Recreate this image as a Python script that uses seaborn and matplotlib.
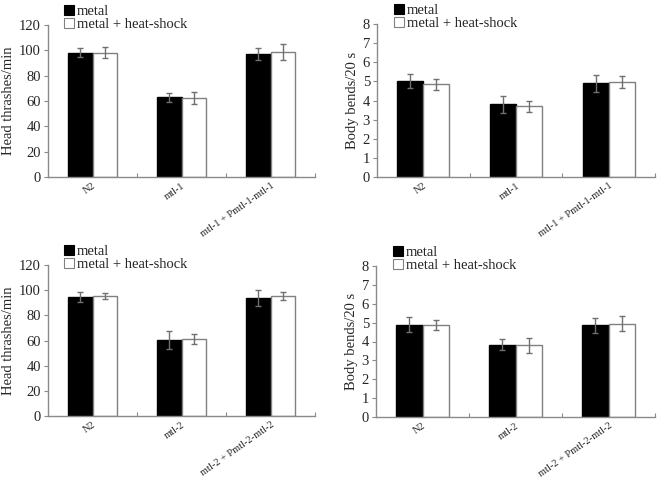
import matplotlib
matplotlib.use("Agg")
import matplotlib.pyplot as plt
import seaborn as sns
import pandas as pd
from matplotlib.patches import Patch
from matplotlib.ticker import FixedLocator
from matplotlib.container import BarContainer

sns.set_style("white")
plt.rcParams['font.family'] = ['Liberation Serif', 'DejaVu Serif']

series = ["metal", "metal + heat-shock"]

cats_1 = ["N2", "mtl-1", "mtl-1 + Pmtl-1-mtl-1"]
cats_2 = ["N2", "mtl-2", "mtl-2 + Pmtl-2-mtl-2"]

# Panel A: head thrashes, mtl-1
ht1_metal = [98, 63, 97]
ht1_metal_err = [3.5, 3.5, 4.5]
ht1_hs = [98, 62.5, 99]
ht1_hs_err = [4.3, 5.0, 6.3]

# Panel B: body bends, mtl-1
bb1_metal = [5.0, 3.8, 4.9]
bb1_metal_err = [0.37, 0.44, 0.45]
bb1_hs = [4.85, 3.7, 4.97]
bb1_hs_err = [0.28, 0.3, 0.33]

# Panel C: head thrashes, mtl-2
ht2_metal = [94.5, 60.5, 93.5]
ht2_metal_err = [4.3, 7.0, 6.4]
ht2_hs = [95.3, 61.2, 95.3]
ht2_hs_err = [2.4, 4.3, 3.2]

# Panel D: body bends, mtl-2
bb2_metal = [4.9, 3.83, 4.87]
bb2_metal_err = [0.42, 0.28, 0.4]
bb2_hs = [4.87, 3.79, 4.93]
bb2_hs_err = [0.25, 0.42, 0.4]

W, H = 661, 484
fig = plt.figure(figsize=(W / 100, H / 100), dpi=100)

# axes rectangles in pixels: left, right, top, bottom
rects = [
    (48, 315, 25, 177),
    (377, 655, 24, 177),
    (48, 315, 265, 416),
    (376, 655, 266, 417),
]

panels = [
    (cats_1, ht1_metal, ht1_metal_err, ht1_hs, ht1_hs_err, "Head thrashes/min", 120, 20),
    (cats_1, bb1_metal, bb1_metal_err, bb1_hs, bb1_hs_err, "Body bends/20 s", 8, 1),
    (cats_2, ht2_metal, ht2_metal_err, ht2_hs, ht2_hs_err, "Head thrashes/min", 120, 20),
    (cats_2, bb2_metal, bb2_metal_err, bb2_hs, bb2_hs_err, "Body bends/20 s", 8, 1),
]

spine_col = "#8a8a8a"
err_col = "#707070"

for (l, r, t, b), (cats, m, me, h, he, ylab, ymax, ystep) in zip(rects, panels):
    ax = fig.add_axes([l / W, 1 - b / H, (r - l) / W, (b - t) / H])
    df = pd.DataFrame({
        "cat": cats + cats,
        "val": m + h,
        "err": me + he,
        "ser": [series[0]] * 3 + [series[1]] * 3,
    })
    sns.barplot(data=df, x="cat", y="val", hue="ser", order=cats,
                hue_order=series, palette=["black", "white"], width=0.56,
                errorbar=None, ax=ax, legend=False, linewidth=1.0)
    edge_cols = ["black", "#808080"]
    bar_conts = [c for c in ax.containers if isinstance(c, BarContainer)]
    for ci, cont in enumerate(bar_conts):
        sub = df[df["ser"] == series[ci]]
        xs, ys = [], []
        for p in cont.patches:
            p.set_edgecolor(edge_cols[ci])
            p.set_linewidth(1.0)
            xs.append(p.get_x() + p.get_width() / 2)
            ys.append(p.get_height())
        ax.errorbar(xs, ys, yerr=sub["err"].values, fmt="none",
                    ecolor=err_col, elinewidth=1.0, capsize=2.5, capthick=1.0)

    ax.set_xlim(-0.5, 2.5)
    ax.set_ylim(0, ymax)
    ax.set_yticks(range(0, ymax + 1, ystep))
    ax.tick_params(axis="y", which="major", direction="out", length=3,
                   width=0.8, color=spine_col, labelsize=10.5, pad=2, left=True)
    ax.set_xticks(range(3))
    ax.set_xticklabels(cats, rotation=35, ha="right", rotation_mode="anchor")
    ax.tick_params(axis="x", which="major", length=0, labelsize=7.5, pad=3)
    ax.xaxis.set_minor_locator(FixedLocator([0.5, 1.5, 2.5]))
    ax.tick_params(axis="x", which="minor", direction="in", length=3,
                   width=0.8, color=spine_col, bottom=True)
    ax.set_xlabel("")
    ax.set_ylabel(ylab, fontsize=10.5, labelpad=3)
    for s in ["top", "right"]:
        ax.spines[s].set_visible(False)
    for s in ["left", "bottom"]:
        ax.spines[s].set_color(spine_col)
        ax.spines[s].set_linewidth(1.0)

    handles = [Patch(facecolor="black", edgecolor="black", linewidth=0.8),
               Patch(facecolor="white", edgecolor="#808080", linewidth=0.8)]
    ax.legend(handles, series, loc="lower left", bbox_to_anchor=(0.06, 0.96),
              frameon=False, fontsize=10.5, handlelength=0.7, handleheight=0.7,
              handletextpad=0.2, labelspacing=0.0, borderpad=0.0,
              borderaxespad=0.0)

fig.savefig("out.png", dpi=100, facecolor="white")
